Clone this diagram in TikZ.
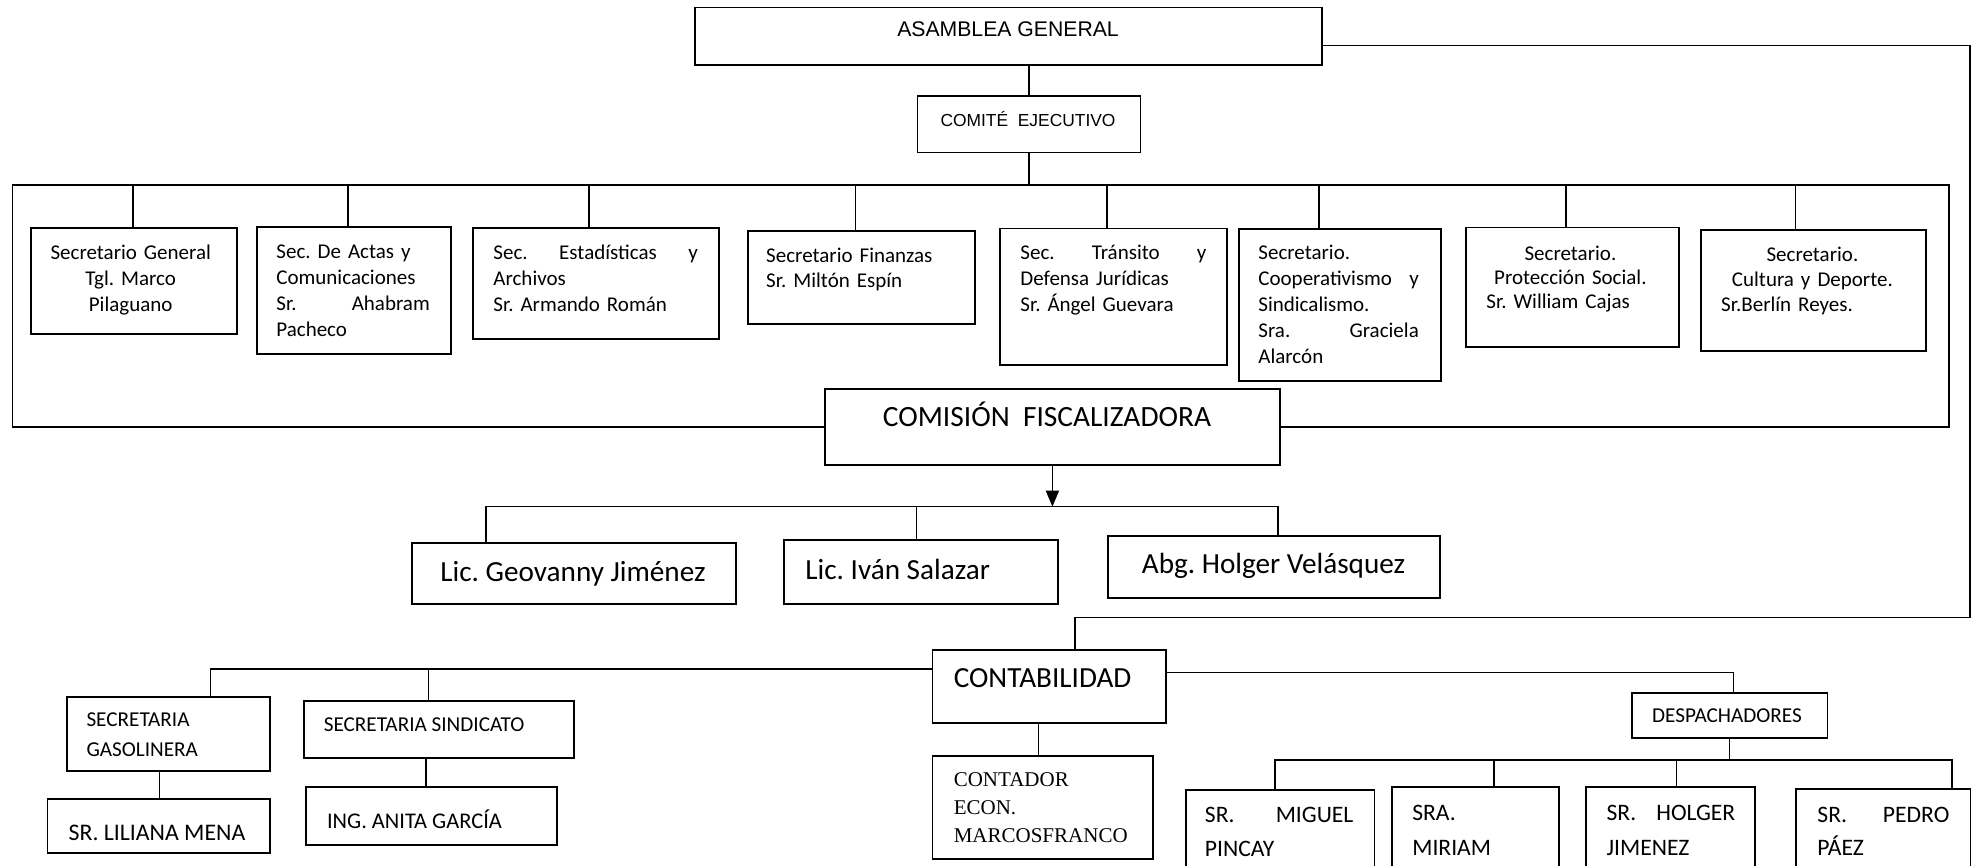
\documentclass[tikz,border=0pt]{standalone}
\usepackage{fontspec}
\setmainfont{Carlito}
\newfontfamily\arialf{Liberation Sans}
\newfontfamily\serff{Liberation Serif}
\usetikzlibrary{arrows.meta}
\frenchspacing
\newcommand\fs[2]{\fontsize{#1}{#2}\selectfont}
\newcommand\bx[5]{\node[box, minimum width={(#4-#2)*0.5pt}, minimum height={(#5-#3)*0.5pt}] (#1) at (#2,#3) {};}
\begin{document}
\begin{tikzpicture}[x=0.5pt,y=-0.5pt,
  box/.style={draw, line width=0.9pt, inner sep=0pt, anchor=north west},
  ln/.style={line width=0.7pt},
  tx/.style={inner sep=0pt, anchor=base west, align=left, execute at begin node=\frenchspacing},
  tc/.style={inner sep=0pt, anchor=base, align=center, execute at begin node=\frenchspacing}]
\useasboundingbox (0,0) rectangle (1973,866);
\clip (0,0) rectangle (1973,866);

% ---------- boxes ----------
\bx{asam}{694}{6.7}{1321}{64.3}
\bx{comite}{916.5}{95}{1139.6}{151.7}
\bx{sg}{29.7}{227.3}{236}{333.3}
\bx{actas}{255.8}{226}{449.7}{352.7}
\bx{estad}{472.4}{227.3}{717.8}{338.3}
\bx{fin}{747}{230}{974}{323.3}
\bx{trans}{999.4}{227.7}{1225.9}{364}
\bx{coop}{1237.7}{228.3}{1439.7}{380}
\bx{prot}{1465}{226.7}{1677.7}{346}
\bx{cult}{1700.4}{229.3}{1925}{350}
\bx{comis}{823.8}{388.3}{1279.2}{464}
\bx{lica}{411.4}{542.3}{734.7}{602.7}
\bx{licb}{783.2}{539}{1057}{602.7}
\bx{abg}{1106.7}{535}{1439.3}{596.7}
\bx{conta}{931.5}{649}{1164.8}{722}
\bx{gaso}{65.7}{696}{269.2}{770}
\bx{lili}{46.6}{798.3}{269.2}{852.3}
\bx{sind}{303}{699.7}{572.7}{757}
\bx{anita}{304.9}{785.7}{556.2}{844.3}
\bx{contador}{931.5}{755.3}{1151.8}{857.7}
\bx{desp}{1630.8}{691.7}{1826.5}{737.3}
\bx{miguel}{1185.4}{789}{1373.5}{900}
\bx{miriam}{1391.3}{786}{1558.3}{900}
\bx{holger}{1585}{786}{1754}{900}
\bx{pedro}{1795}{788.3}{1969.6}{900}

% ---------- texts ----------
\node[tc, font=\arialf\fs{10.6}{13}] (asam-t) at (1008,37) {ASAMBLEA GENERAL};
\node[tc, font=\arialf\fs{8.7}{11}] (comite-t) at (1028,127) {COMITÉ\ \ EJECUTIVO};

\node[tc, text width=95pt, font=\fs{10.5}{13}] (sg-t) at (130.7,259.5) {Secretario General\\Tgl. Marco\\Pilaguano};
\node[tx, text width=76.7pt, font=\fs{10.5}{13.15}] (actas-t) at (276,258) {Sec. De Actas y\\Comunicaciones\\Sr.\hfill Ahabram\\Pacheco};
\node[tx, text width=102.25pt, font=\fs{10.5}{13}] (estad-t) at (493,259.5) {Sec.\hfill Estadísticas\hfill y\\Archivos\\Sr. Armando Román};
\node[tx, text width=100pt, font=\fs{10.5}{13}] (fin-t) at (765.8,262) {Secretario Finanzas\\Sr. Miltón Espín};
\node[tx, text width=93pt, font=\fs{10.5}{13}] (trans-t) at (1020,259) {Sec.\hfill Tránsito\hfill y\\Defensa Jurídicas\\Sr. Ángel Guevara};
\node[tx, text width=80.2pt, font=\fs{10.5}{13}] (coop-t) at (1258,259.5) {Secretario.\\Cooperativismo\hfill y\\Sindicalismo.\\Sra.\hfill Graciela\\Alarcón};
\node[tx, text width=84pt, font=\fs{10.5}{12}] (prot-t) at (1486,260) {\hfill Secretario.\hfill\null\\\hfill Protección Social.\hfill\null\\Sr. William Cajas};
\node[tx, text width=91.2pt, font=\fs{10.5}{12.5}] (cult-t) at (1720.8,261.5) {\hfill Secretario.\hfill\null\\\hfill Cultura y Deporte.\hfill\null\\Sr.Berlín Reyes.};

\node[tc, font=\fs{14.7}{18}] (comis-t) at (1047,426.7) {COMISIÓN\ \ FISCALIZADORA};
\node[tx, font=\fs{14.6}{18}] (lica-t) at (440,581.7) {Lic. Geovanny Jiménez};
\node[tx, font=\fs{14.6}{18}] (licb-t) at (805,579.3) {Lic. Iván Salazar};
\node[tx, font=\fs{14.6}{18}] (abg-t) at (1141.5,573.3) {Abg. Holger Velásquez};

\node[tx, font=\fs{14.6}{18}] (conta-t) at (953.4,687.3) {CONTABILIDAD};
\node[tx, text width=90pt, font=\fs{10.6}{15}] (gaso-t) at (86.1,726.7) {SECRETARIA\\GASOLINERA};
\node[tx, font=\fs{11.9}{14}] (lili-t) at (68.2,840.7) {SR. LILIANA MENA};
\node[tx, font=\fs{10.6}{13}] (sind-t) at (323.4,731.7) {SECRETARIA SINDICATO};
\node[tx, font=\fs{11.2}{14}] (anita-t) at (326.6,828.3) {ING. ANITA GARCÍA};
\node[tx, text width=100pt, font=\serff\fs{10.5}{14}] (contador-t) at (953.4,786.7) {CONTADOR\\ECON.\\MARCOSFRANCO};
\node[tc, font=\fs{10.6}{13}] (desp-t) at (1727,722.7) {DESPACHADORES};

\node[tx, text width=74.25pt, font=\fs{11.8}{17}] (miguel-t) at (1204.5,822.7) {SR.\hfill MIGUEL\\PINCAY};
\node[tx, text width=70pt, font=\fs{11.8}{17.5}] (miriam-t) at (1411.9,820) {SRA.\\MIRIAM};
\node[tx, text width=64.35pt, font=\fs{11.8}{17.5}] (holger-t) at (1606.2,820) {SR.\hfill HOLGER\\JIMENEZ};
\node[tx, text width=66pt, font=\fs{11.8}{16.5}] (pedro-t) at (1817,822) {SR.\hfill PEDRO\\PÁEZ};

% ---------- connector coordinates ----------
\coordinate (busL) at (12.7,185);
\coordinate (busR) at (1949,185);
\coordinate (d1) at (133,185);
\coordinate (d2) at (348,185);
\coordinate (d3) at (589,185);
\coordinate (d4) at (855.4,185);
\coordinate (d5) at (1107,185);
\coordinate (d6) at (1319,185);
\coordinate (d7) at (1566,185);
\coordinate (d8) at (1795.4,185);
\coordinate (ar) at (1970,45.7);
\coordinate (cr) at (1075,617.7);
\coordinate (lb1) at (486,506.7);
\coordinate (lb2) at (916.5,506.7);
\coordinate (lb3) at (1278,506.7);
\coordinate (cl1) at (210.5,669);
\coordinate (cl2) at (428.6,669);
\coordinate (crt) at (1733.5,672.7);
\coordinate (cd) at (1038.2,722);
\coordinate (gl) at (159.5,770);
\coordinate (sa) at (426,757);
\coordinate (db) at (1729.4,760);
\coordinate (e1) at (1275,760);
\coordinate (e2) at (1494,760);
\coordinate (e3) at (1676.7,760);
\coordinate (e4) at (1951.8,760);

% ---------- connectors ----------
\draw[ln] (comite.north) -- (comite.north |- asam.south);
\draw[ln] (comite.south) -- (comite.south |- busL);
\draw[ln] (comis.west) -| (busL) -- (busR) |- (comis.east);
\draw[ln] (d1) -- (d1 |- sg.north);
\draw[ln] (d2) -- (d2 |- actas.north);
\draw[ln] (d3) -- (d3 |- estad.north);
\draw[ln] (d4) -- (d4 |- fin.north);
\draw[ln] (d5) -- (d5 |- trans.north);
\draw[ln] (d6) -- (d6 |- coop.north);
\draw[ln] (d7) -- (d7 |- prot.north);
\draw[ln] (d8) -- (d8 |- cult.north);
\draw[ln] (ar -| asam.east) -- (ar) |- (cr) -- (cr |- conta.north);
\draw[ln, -{Triangle[length=8pt,width=6.5pt]}] (comis.south) -- (comis.south |- lb1);
\draw[ln] (lb1 |- lica.north) -- (lb1) -- (lb3) -- (lb3 |- abg.north);
\draw[ln] (lb2) -- (lb2 |- licb.north);
\draw[ln] (cl1 -| conta.west) -- (cl1) -- (cl1 |- gaso.north);
\draw[ln] (cl2) -- (cl2 |- sind.north);
\draw[ln] (crt -| conta.east) -- (crt) -- (crt |- desp.north);
\draw[ln] (cd |- conta.south) -- (cd |- contador.north);
\draw[ln] (gl |- gaso.south) -- (gl |- lili.north);
\draw[ln] (sa |- sind.south) -- (sa |- anita.north);
\draw[ln] (db |- desp.south) -- (db);
\draw[ln] (e1 |- miguel.north) -- (e1) -- (e4) -- (e4 |- pedro.north);
\draw[ln] (e2) -- (e2 |- miriam.north);
\draw[ln] (e3) -- (e3 |- holger.north);
\end{tikzpicture}
\end{document}
